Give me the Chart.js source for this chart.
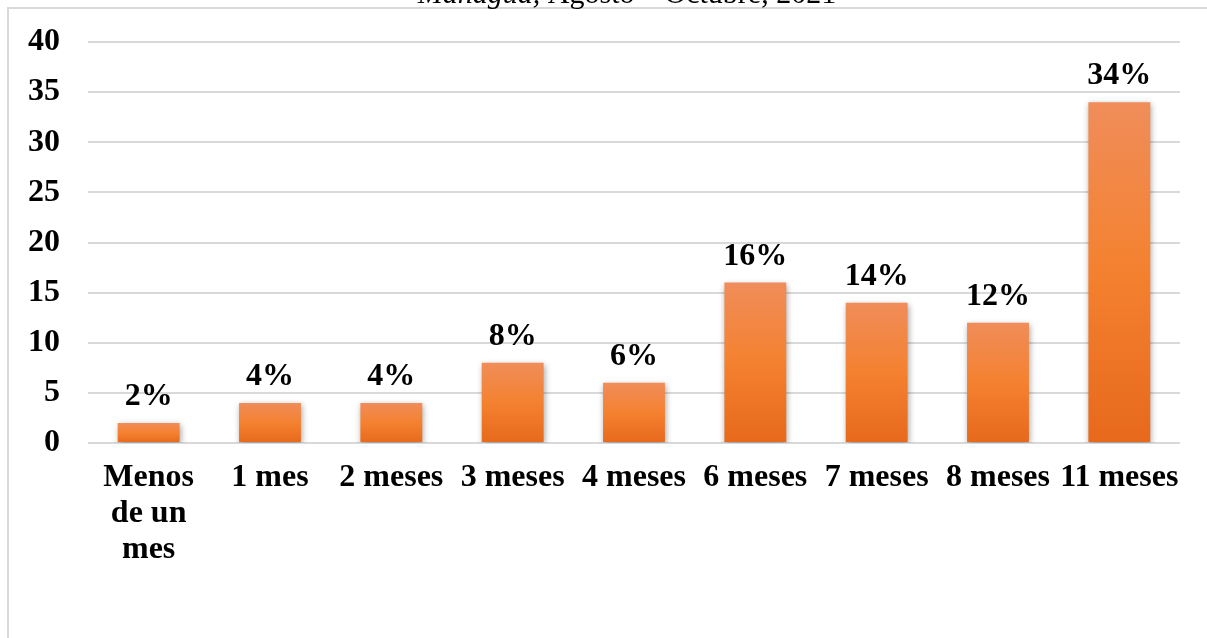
<!DOCTYPE html>
<html>
<head>
<meta charset="utf-8">
<script src="https://cdn.jsdelivr.net/npm/chart.js@4.4.1/dist/chart.umd.min.js"></script>
<style>
  html, body { margin: 0; padding: 0; background: #fff; }
  #wrap { width: 1207px; height: 638px; position: relative; }
</style>
</head>
<body>
<div id="wrap"><canvas id="chart"></canvas></div>
<script>
// data
const categories = [['Menos', 'de un', 'mes'], '1 mes', '2 meses', '3 meses', '4 meses', '6 meses', '7 meses', '8 meses', '11 meses'];
const values = [2, 4, 4, 8, 6, 16, 14, 12, 34];
const yMin = 0, yMax = 40, yStep = 5;
const titleParts = [['italic', 'Managua,'], ['normal', ' Agosto \u2013 Octubre, 2021']];

const SERIF = '"Liberation Serif", "Times New Roman", serif';
const GRID = '#d9d9d9';

function barGradient(context) {
  const chart = context.chart;
  const y = chart.scales.y;
  if (!chart.chartArea || !y || context.raw === undefined) return '#f47f2e';
  const top = y.getPixelForValue(context.raw);
  const base = y.getPixelForValue(0);
  const g = chart.ctx.createLinearGradient(0, top, 0, base);
  g.addColorStop(0, '#f08d5a');
  g.addColorStop(0.5, '#f4812f');
  g.addColorStop(1, '#e7691c');
  return g;
}

// frame + clipped heading at the very top
const framePlugin = {
  id: 'frame',
  beforeDraw(chart) {
    const ctx = chart.ctx;
    ctx.save();
    ctx.fillStyle = '#fff';
    ctx.fillRect(0, 0, chart.width, chart.height);
    ctx.strokeStyle = GRID;
    ctx.lineWidth = 2;
    ctx.beginPath();
    ctx.moveTo(8, chart.height);
    ctx.lineTo(8, 8);
    ctx.lineTo(chart.width, 8);
    ctx.stroke();

    ctx.fillStyle = '#000';
    ctx.textBaseline = 'alphabetic';
    let total = 0;
    titleParts.forEach(p => {
      ctx.font = p[0] + ' 30px ' + SERIF;
      total += ctx.measureText(p[1]).width;
    });
    let x = 627 - total / 2;
    titleParts.forEach(p => {
      ctx.font = p[0] + ' 30px ' + SERIF;
      ctx.fillText(p[1], x, 3);
      x += ctx.measureText(p[1]).width;
    });
    ctx.restore();
  }
};

const shadowPlugin = {
  id: 'barShadow',
  beforeDatasetDraw(chart) {
    const ctx = chart.ctx;
    ctx.save();
    ctx.shadowColor = 'rgba(0,0,0,0.35)';
    ctx.shadowBlur = 6;
    ctx.shadowOffsetX = 1;
    ctx.shadowOffsetY = 2;
  },
  afterDatasetDraw(chart) {
    chart.ctx.restore();
  }
};

const labelPlugin = {
  id: 'valueLabels',
  afterDatasetsDraw(chart) {
    const ctx = chart.ctx;
    const meta = chart.getDatasetMeta(0);
    ctx.save();
    ctx.font = 'bold 32px ' + SERIF;
    ctx.fillStyle = '#000';
    ctx.textAlign = 'center';
    ctx.textBaseline = 'alphabetic';
    meta.data.forEach((bar, i) => {
      ctx.fillText(values[i] + '%', bar.x, bar.y - 18);
    });
    ctx.restore();
  }
};

new Chart(document.getElementById('chart'), {
  type: 'bar',
  data: {
    labels: categories,
    datasets: [{
      data: values,
      backgroundColor: barGradient,
      borderWidth: 0,
      categoryPercentage: 1,
      barPercentage: 0.51
    }]
  },
  options: {
    responsive: true,
    maintainAspectRatio: false,
    animation: false,
    layout: { padding: { top: 42, right: 27, bottom: 0, left: 0 } },
    plugins: {
      legend: { display: false },
      tooltip: { enabled: false },
      title: { display: false }
    },
    scales: {
      x: {
        grid: { display: false },
        border: { display: false },
        ticks: {
          color: '#000',
          font: { family: SERIF, size: 32, weight: 'bold', lineHeight: 1.14 },
          padding: 8,
          maxRotation: 0,
          autoSkip: false
        },
        afterFit(scale) { scale.height = 195; }
      },
      y: {
        min: yMin,
        max: yMax,
        grid: { color: GRID, lineWidth: 2, drawTicks: false },
        border: { display: false },
        ticks: {
          stepSize: yStep,
          color: '#000',
          font: { family: SERIF, size: 32, weight: 'bold' },
          padding: 28
        },
        afterFit(scale) {
          scale.width = 88;
          scale.paddingTop = 0;
          scale.paddingBottom = 0;
        }
      }
    }
  },
  plugins: [framePlugin, shadowPlugin, labelPlugin]
});
</script>
</body>
</html>
